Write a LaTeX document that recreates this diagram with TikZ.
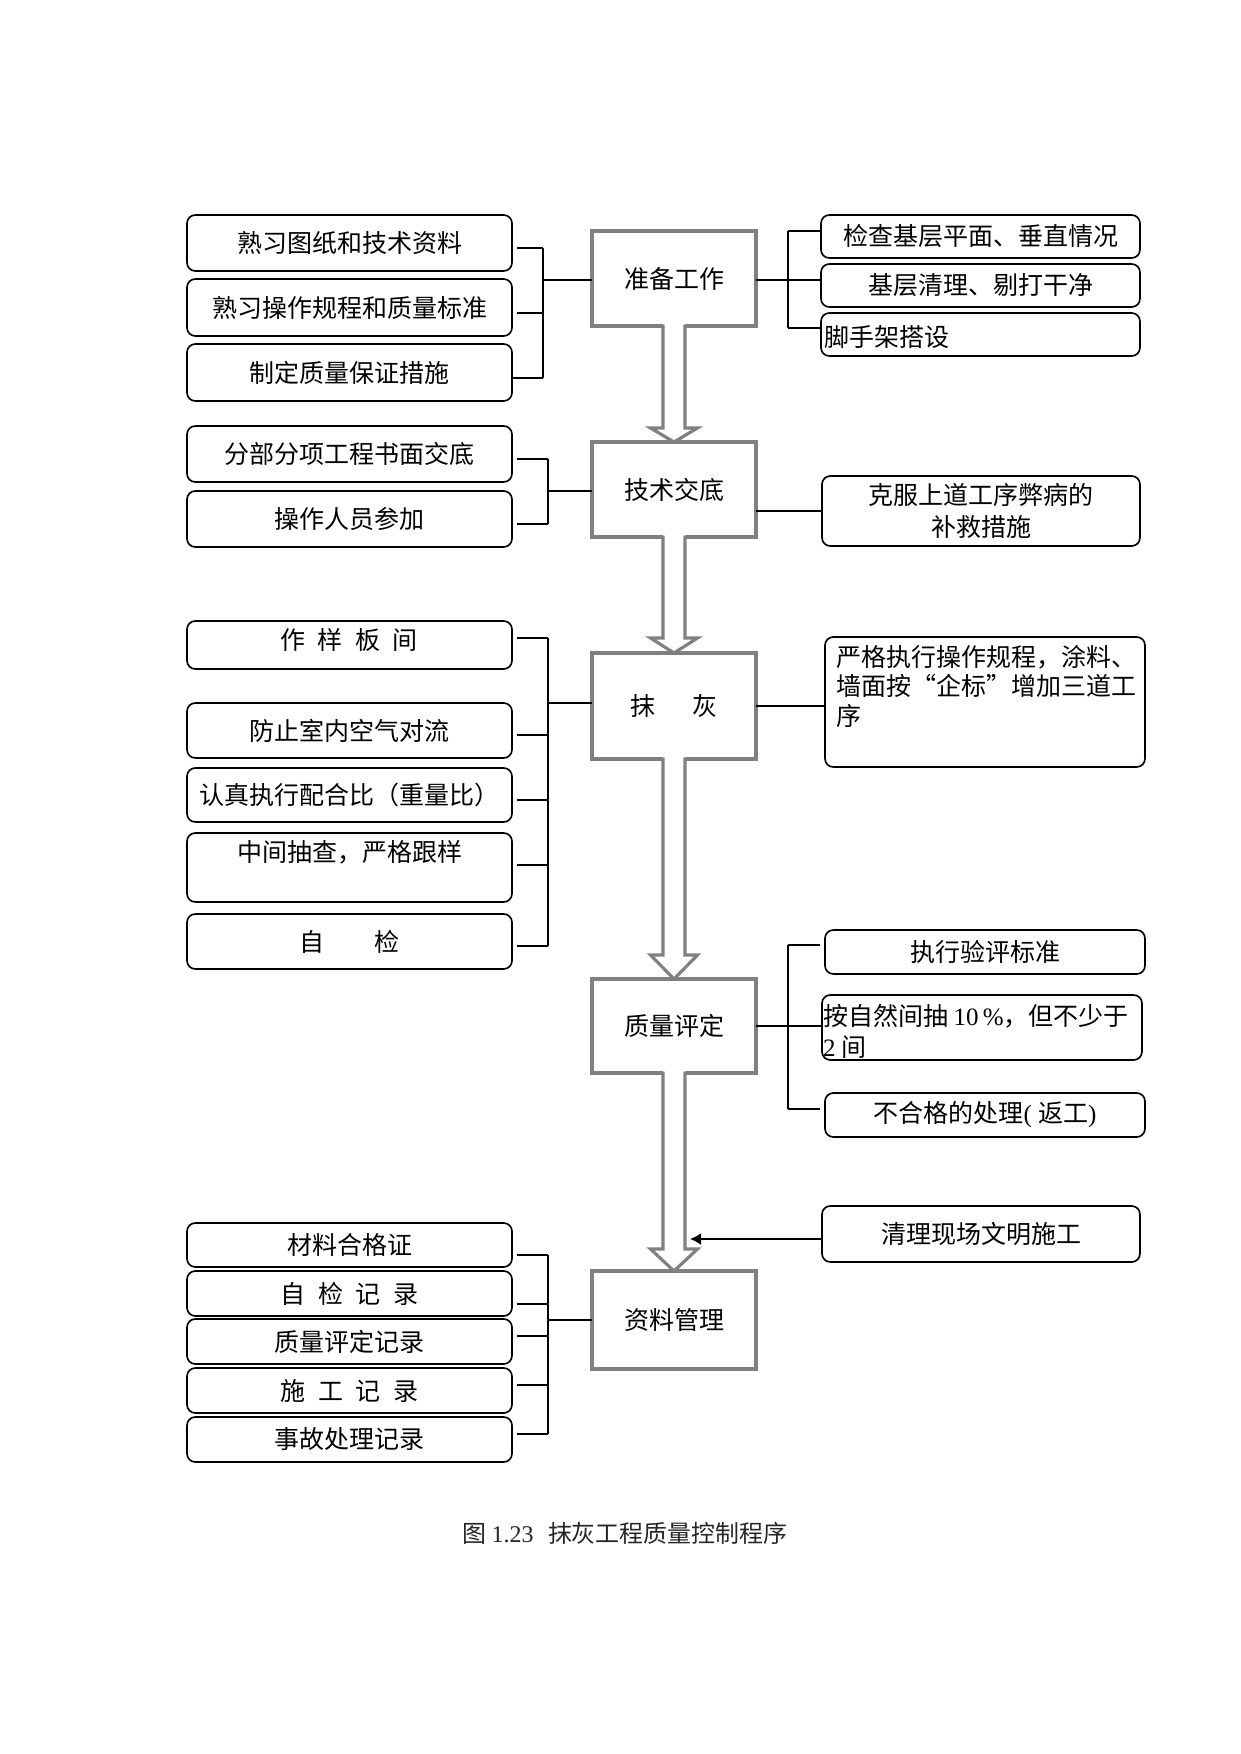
\documentclass[tikz,border=0pt]{standalone}
\usepackage{fontspec}
\setmainfont{Liberation Serif}
\newfontfamily\cjk{Noto Sans CJK SC}
\usetikzlibrary{arrows.meta,calc}
\definecolor{midgray}{RGB}{128,128,128}
\newcommand\rbx[7][]{\node[rbox,#1,minimum width={(#5-#3)*0.48pt},minimum height={(#6-#4)*0.48pt}] (#2) at ({(#3+#5)/2},{(#4+#6)/2}) {#7};}
\newcommand\harr[3]{%
  \fill[white] ([shift={(-11,-3)}]#1.south) -- ([shift={(-11,-#3)}]#2.north) -- ([shift={(-23.5,-#3)}]#2.north) -- (#2.north) -- ([shift={(23.5,-#3)}]#2.north) -- ([shift={(11,-#3)}]#2.north) -- ([shift={(11,-3)}]#1.south) -- cycle;
  \draw[harrow] ([shift={(-11,-1.5)}]#1.south) -- ([shift={(-11,-#3)}]#2.north) -- ([shift={(-23.5,-#3)}]#2.north) -- (#2.north) -- ([shift={(23.5,-#3)}]#2.north) -- ([shift={(11,-#3)}]#2.north) -- ([shift={(11,-1.5)}]#1.south);}
\begin{document}
\begin{tikzpicture}[x=0.48pt,y=-0.48pt,
  every node/.style={inner sep=0pt,outer sep=0pt,font=\cjk\fontsize{12pt}{14.5pt}\selectfont},
  rbox/.style={draw=black,line width=0.8pt,rounded corners=4pt,fill=white},
  cbox/.style={draw=midgray,line width=1.5pt,fill=white,minimum width={164*0.48pt}},
  thk/.style={line width=0.9pt},
  thn/.style={line width=0.5pt},
  harrow/.style={draw=midgray,line width=1.5pt,line join=miter}]
\fill[white] (0,0) rectangle (1241,1754);
\path[use as bounding box] (0,0) rectangle (1241,1754);

% ---------- centre column ----------
\node[cbox,minimum height={95*0.48pt}] (C1) at (674,278.5) {准备工作};
\node[cbox,minimum height={95*0.48pt}] (C2) at (674,489.5) {技术交底};
\node[cbox,minimum height={106*0.48pt}] (C3) at (674,706) {抹\hspace{1.5em}灰};
\node[cbox,minimum height={94*0.48pt}] (C4) at (674,1026) {质量评定};
\node[cbox,minimum height={98*0.48pt}] (C5) at (674,1320) {资料管理};
\harr{C1}{C2}{14}
\harr{C2}{C3}{15}
\harr{C3}{C4}{24}
\harr{C4}{C5}{22}

% ---------- left boxes ----------
\rbx{L1}{187}{215}{512}{271}{熟习图纸和技术资料}
\rbx{L2}{187}{279}{512}{336}{熟习操作规程和质量标准}
\rbx{L3}{187}{344}{512}{401}{制定质量保证措施}
\rbx{L4}{187}{426}{512}{482}{分部分项工程书面交底}
\rbx{L5}{187}{491}{512}{547}{操作人员参加}
\rbx{L6}{187}{621}{512}{669}{}
\node (t6) at (349,640) {作\hspace{.5em}样\hspace{.5em}板\hspace{.5em}间};
\rbx{L7}{187}{703}{512}{758}{防止室内空气对流}
\rbx{L8}{187}{768}{512}{822}{认真执行配合比（重量比）}
\rbx{L9}{187}{833}{512}{902}{}
\node (t9) at (350,852) {中间抽查，严格跟样};
\rbx{L10}{187}{914}{512}{969}{自\hspace{2em}检}
\rbx{L11}{187}{1223}{512}{1267}{材料合格证}
\rbx{L12}{187}{1271}{512}{1316}{自\hspace{.5em}检\hspace{.5em}记\hspace{.5em}录}
\rbx{L13}{187}{1319}{512}{1364}{质量评定记录}
\rbx{L14}{187}{1368}{512}{1413}{施\hspace{.5em}工\hspace{.5em}记\hspace{.5em}录}
\rbx{L15}{187}{1417}{512}{1462}{事故处理记录}

% ---------- right boxes ----------
\rbx{R1}{821}{215}{1140}{258}{检查基层平面、垂直情况}
\rbx{R2}{821}{264}{1140}{307}{基层清理、剔打干净}
\rbx{R3}{821}{313}{1140}{356}{}
\node[anchor=west] (t3) at (824,337) {脚手架搭设};
\rbx[align=center,font=\cjk\fontsize{12pt}{15.4pt}\selectfont]{R4}{822}{476}{1140}{546}{克服上道工序弊病的\\补救措施}
\rbx{R5}{825}{637}{1145}{767}{}
\node[anchor=north west,align=left,font=\cjk\fontsize{12pt}{14.2pt}\selectfont] (t5) at (836,645) {严格执行操作规程，涂料、\\墙面按“企标”增加三道工\\序};
\rbx{R6}{825}{930}{1145}{974}{执行验评标准}
\rbx{R7}{822}{995}{1142}{1060}{}
\node[anchor=north west,align=left,font=\cjk\fontsize{12pt}{14.9pt}\selectfont] (t7) at (823,1004) {按自然间抽 {\rmfamily 10\,\%}，但不少于\\{\rmfamily 2} 间};
\rbx{R8}{825}{1093}{1145}{1137}{不合格的处理{\rmfamily( }返工{\rmfamily)}}
\rbx{R9}{822}{1206}{1140}{1262}{清理现场文明施工}

% ---------- brackets: group 1 ----------
\coordinate (jA) at (543,280);
\coordinate (jAt) at (543,248);
\coordinate (jAb) at (543,378);
\draw[thn] (L1.east) ++(5,5) -- ++(26,0);
\draw[thn] (L2.east) ++(5,5.5) -- ++(26,0);
\draw[thn] (L3.east) ++(0,5.5) -- ++(31,0);
\draw[thk] (jAt) -- (jAb);
\draw[thk] (jA) -- (jA -| C1.west);

% right of C1
\coordinate (jD) at (788,280);
\coordinate (jDt) at (788,231);
\coordinate (jDb) at (788,328);
\draw[thn] (jDt) -- (jDb);
\draw[thk] (jDt) -- ([shift={(0,-5.5)}]R1.west);
\draw[thk] (jDb) -- ([shift={(0,-6.5)}]R3.west);
\draw[thk] (C1.east |- jD) -- (R2.west |- jD);

% group 2
\coordinate (jB) at (548,491);
\coordinate (jBt) at (548,459);
\coordinate (jBb) at (548,524);
\draw[thk] (L4.east) ++(5,5) -- (jBt);
\draw[thk] (L5.east) ++(5,5) -- (jBb);
\draw[thk] (jBt) -- (jBb);
\draw[thk] (jB) -- (jB -| C2.west);
\draw[thn] (C2.east |- R4.west) -- (R4.west);

% group 3
\coordinate (jC) at (548,703);
\coordinate (jCt) at (548,638);
\coordinate (jCb) at (548,946);
\draw[thn] (L6.east) ++(5,-7) -- (jCt);
\draw[thk] (L7.east) ++(5,4.5) -- ++(31,0);
\draw[thk] (L8.east) ++(5,5) -- ++(31,0);
\draw[thk] (L9.east) ++(5,-2.5) -- ++(31,0);
\draw[thk] (L10.east) ++(5,4.5) -- (jCb);
\draw[thn] (jCt) -- (jCb);
\draw[thn] (jC) -- (jC -| C3.west);
\draw[thn] (C3.east) -- (C3.east -| R5.west);

% right of C4
\coordinate (jE) at (788,1027);
\coordinate (jEt) at (788,945);
\coordinate (jEb) at (788,1109);
\draw[thn] (jEt) -- (jEb);
\draw[thk] (jEt) -- ([shift={(-5,-7)}]R6.west);
\draw[thk] (jEb) -- ([shift={(-5,-6)}]R8.west);
\draw[thn] (C4.east) -- (C4.east -| R7.west);

% clean-up arrow
\coordinate (qtip) at (690,1239);
\draw[thk,-{Latex[length=5.3pt,width=5.8pt]}] (R9.west) ++(0,5) -- (qtip);

% group 5
\coordinate (jF) at (548,1320);
\coordinate (jFt) at (548,1255);
\coordinate (jFb) at (548,1434);
\draw[thk] (L11.east) ++(5,10) -- (jFt);
\draw[thk] (L12.east) ++(5,10.5) -- ++(31,0);
\draw[thk] (L13.east) ++(5,-5.5) -- ++(31,0);
\draw[thk] (L14.east) ++(5,-5.5) -- ++(31,0);
\draw[thk] (L15.east) ++(5,-5.5) -- (jFb);
\draw[thk] (jFt) -- (jFb);
\draw[thk] (jF) -- (jF -| C5.west);

% caption
\node[font=\cjk\fontsize{11.5pt}{14pt}\selectfont,text=black!85] (cap) at (625,1533) {图 {\rmfamily 1.23}\hspace{.6em}抹灰工程质量控制程序};
\end{tikzpicture}
\end{document}
